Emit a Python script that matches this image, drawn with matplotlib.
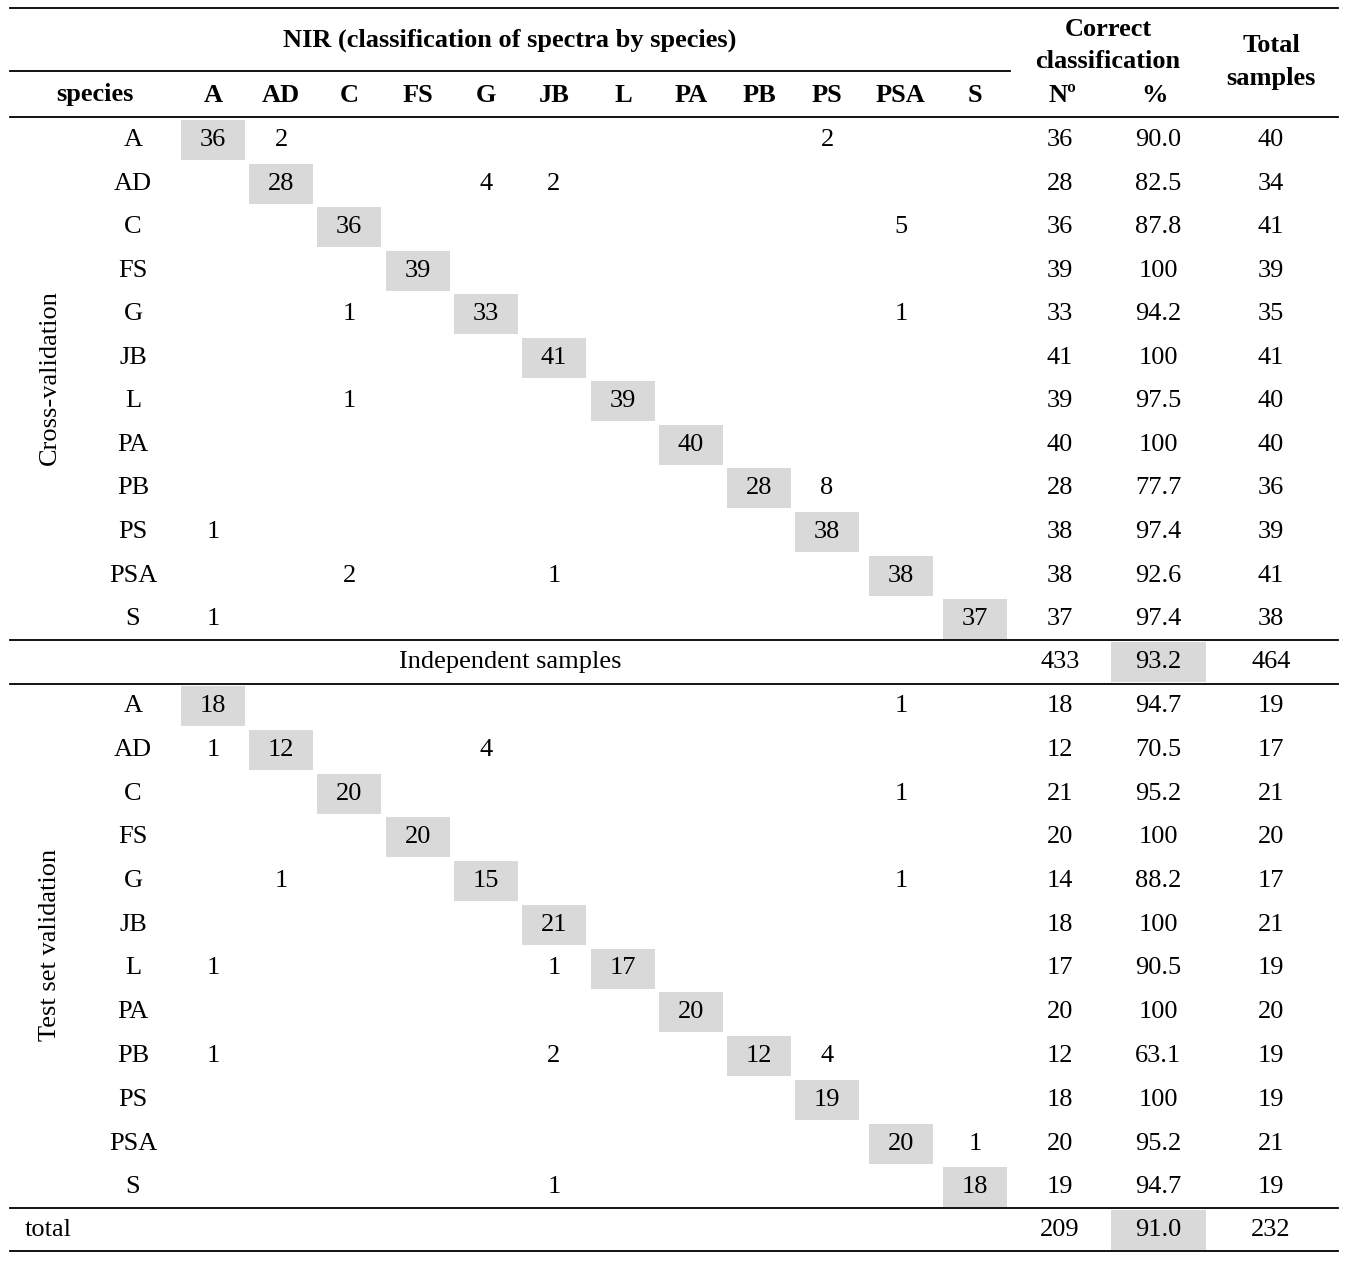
import matplotlib
matplotlib.use("Agg")
import matplotlib.pyplot as plt
from matplotlib.patches import Rectangle

species = ["A", "AD", "C", "FS", "G", "JB", "L", "PA", "PB", "PS", "PSA", "S"]

# off-diagonal + diagonal entries per row: {column: count}
cross = [
    {"A": 36, "AD": 2, "PS": 2},
    {"AD": 28, "G": 4, "JB": 2},
    {"C": 36, "PSA": 5},
    {"FS": 39},
    {"C": 1, "G": 33, "PSA": 1},
    {"JB": 41},
    {"C": 1, "L": 39},
    {"PA": 40},
    {"PB": 28, "PS": 8},
    {"A": 1, "PS": 38},
    {"C": 2, "JB": 1, "PSA": 38},
    {"A": 1, "S": 37},
]
cross_n = [36, 28, 36, 39, 33, 41, 39, 40, 28, 38, 38, 37]
cross_pct = ["90.0", "82.5", "87.8", "100", "94.2", "100", "97.5", "100", "77.7", "97.4", "92.6", "97.4"]
cross_tot = [40, 34, 41, 39, 35, 41, 40, 40, 36, 39, 41, 38]
cross_sum = (433, "93.2", 464)

test = [
    {"A": 18, "PSA": 1},
    {"A": 1, "AD": 12, "G": 4},
    {"C": 20, "PSA": 1},
    {"FS": 20},
    {"AD": 1, "G": 15, "PSA": 1},
    {"JB": 21},
    {"A": 1, "JB": 1, "L": 17},
    {"PA": 20},
    {"A": 1, "JB": 2, "PB": 12, "PS": 4},
    {"PS": 19},
    {"PSA": 20, "S": 1},
    {"JB": 1, "S": 18},
]
test_n = [18, 12, 21, 20, 14, 18, 17, 20, 12, 18, 20, 19]
test_pct = ["94.7", "70.5", "95.2", "100", "88.2", "100", "90.5", "100", "63.1", "100", "95.2", "94.7"]
test_tot = [19, 17, 21, 20, 17, 21, 19, 20, 19, 19, 21, 19]
test_sum = (209, "91.0", 232)

W, H = 1359, 1279
fig = plt.figure(figsize=(W / 100, H / 100), dpi=100)
ax = fig.add_axes([0, 0, 1, 1])
ax.set_xlim(0, W)
ax.set_ylim(H, 0)
ax.axis("off")

FONT = "Liberation Serif"
FS = 19
GRAY = "#d9d9d9"

col_x = [213, 281, 349, 418, 486, 554, 623, 691, 759, 827, 901, 975]
x_sp, x_n, x_pct, x_tot = 133, 1060, 1158, 1271
cross_y = [140 + i * 43.55 for i in range(12)]
test_y = [706 + i * 43.75 for i in range(12)]


def txt(x, y, s, **kw):
    kw.setdefault("ha", "center")
    ax.text(x, y, s, va="center", fontsize=FS, family=FONT, **kw)


def hline(y, x0=10, x1=1338):
    ax.plot([x0, x1], [y, y], color="black", lw=1.3)


def box(xc, yc, w=64, h=40):
    ax.add_patch(Rectangle((xc - w / 2, yc - h / 2), w, h, color=GRAY, lw=0))


# header
hline(8)
hline(71, 10, 1010)
hline(117)
txt(510, 40, "NIR (classification of spectra by species)", weight="bold")
txt(1108, 30, "Correct", weight="bold")
txt(1108, 62, "classification", weight="bold")
txt(1271, 46, "Total", weight="bold")
txt(1271, 79, "samples", weight="bold")
txt(95, 95, "species", weight="bold")
for x, s in zip(col_x, species):
    txt(x, 95, s, weight="bold")
txt(1062, 95, "Nº", weight="bold")
txt(1155, 95, "%", weight="bold")


def block(rows, ns, pcts, tots, ys):
    for i, (row, y) in enumerate(zip(rows, ys)):
        txt(x_sp, y, species[i])
        for j, s in enumerate(species):
            if s in row:
                if i == j:
                    box(col_x[j], y)
                txt(col_x[j], y, str(row[s]))
        txt(x_n, y, str(ns[i]))
        txt(x_pct, y, pcts[i])
        txt(x_tot, y, str(tots[i]))


block(cross, cross_n, cross_pct, cross_tot, cross_y)
hline(640)
txt(510, 662, "Independent samples")
box(x_pct, 662, 95, 40)
txt(x_n, 662, str(cross_sum[0]))
txt(x_pct, 662, cross_sum[1])
txt(x_tot, 662, str(cross_sum[2]))
hline(684)
block(test, test_n, test_pct, test_tot, test_y)
hline(1208)
txt(25, 1230, "total", ha="left")
box(x_pct, 1230, 95, 40)
txt(x_n, 1230, str(test_sum[0]))
txt(x_pct, 1230, test_sum[1])
txt(x_tot, 1230, str(test_sum[2]))
hline(1251)

txt(50, 378, "Cross-validation", rotation=90)
txt(50, 945, "Test set validation", rotation=90)

fig.savefig("out.png", dpi=100)
